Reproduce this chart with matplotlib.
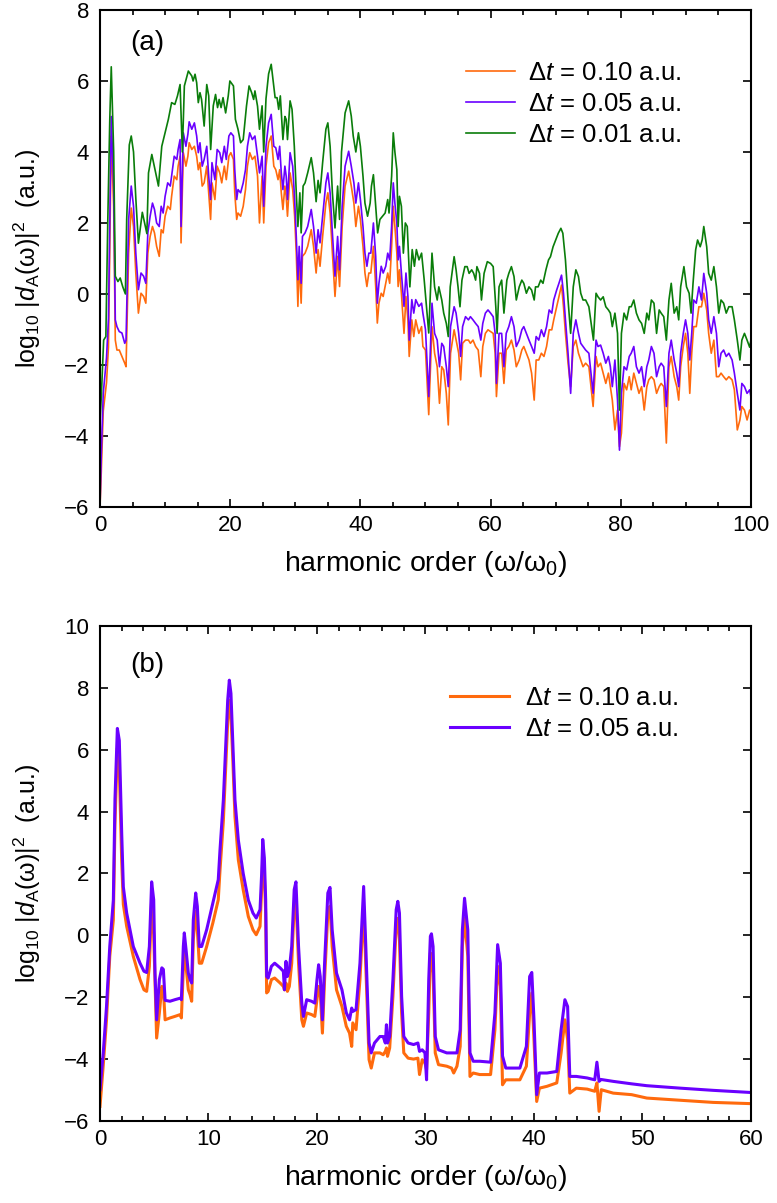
import numpy as np
import matplotlib
matplotlib.use("Agg")
import matplotlib.pyplot as plt
from matplotlib.ticker import MultipleLocator

plt.rcParams['font.family'] = ['Liberation Sans', 'DejaVu Sans']
plt.rcParams['mathtext.fontset'] = 'custom'
plt.rcParams['mathtext.rm'] = 'Liberation Sans'
plt.rcParams['mathtext.it'] = 'Liberation Sans:italic'
plt.rcParams['mathtext.bf'] = 'Liberation Sans:bold'

# ---------------- panel (a) data ----------------
harm_a = [0, 0.2, 0.5, 1.0, 1.3, 1.73, 2.1, 2.35, 2.6, 2.96,
          3.37, 3.8, 4.0, 4.4, 4.8, 5.15, 5.5, 5.9, 6.3, 6.7,
          7.04, 7.35, 7.7, 8.06, 8.37, 8.7, 9.1, 9.4, 9.7, 10.0,
          10.4, 10.8, 11.0, 11.4, 11.8, 12.0, 12.3, 12.45, 12.8, 13.2,
          13.5, 13.7, 14.1, 14.5, 14.85, 15.1, 15.36, 15.7, 16.0, 16.4,
          16.7, 16.99, 17.2, 17.65, 18.0, 18.4, 18.7, 19.1, 19.4, 19.8,
          20.1, 20.5, 20.7, 21.0, 21.2, 21.6, 22.0, 22.35, 22.65, 23.0,
          23.4, 23.8, 24.2, 24.5, 24.9, 25.15, 25.5, 25.9, 26.3, 26.7,
          27.0, 27.35, 27.6, 27.85, 28.1, 28.4, 28.6, 28.8, 29.2, 29.6,
          29.9, 30.15, 30.4, 30.6, 30.9, 31.1, 31.5, 31.9, 32.45, 32.8,
          33.2, 33.5, 33.8, 34.2, 34.7, 35.0, 35.35, 35.7, 36.1, 36.5,
          36.8, 37.2, 37.65, 38.2, 38.6, 39.0, 39.3, 39.7, 40.0, 40.4,
          40.7, 41.0, 41.3, 41.6, 42.0, 42.35, 42.6, 42.85, 43.2, 43.5,
          43.9, 44.2, 44.5, 44.8, 45.05, 45.3, 45.6, 45.8, 46.0, 46.3,
          46.7, 47.0, 47.3, 47.5, 47.9, 48.2, 48.5, 48.98, 49.4, 49.6,
          50.0, 50.5, 51.0, 51.4, 51.8, 52.15, 52.5, 52.8, 53.2, 53.5,
          53.85, 54.4, 54.7, 55.1, 55.4, 55.7, 56.15, 56.6, 56.9, 57.3,
          57.7, 58.1, 58.5, 58.8, 59.2, 59.6, 60.0, 60.4, 60.7, 60.9,
          61.3, 61.7, 62.05, 62.4, 62.8, 63.2, 63.6, 63.95, 64.4, 64.8,
          65.1, 65.5, 65.9, 66.3, 66.7, 67.0, 67.4, 67.8, 68.2, 68.6,
          69.0, 69.4, 69.7, 70.15, 70.5, 70.9, 71.2, 71.5, 71.9, 72.3,
          72.7, 73.1, 73.5, 73.85, 74.2, 74.6, 75.1, 75.75, 76.2, 76.5,
          76.9, 77.3, 77.7, 78.1, 78.4, 78.7, 79.1, 79.5, 79.8, 80.1,
          80.5, 80.9, 81.3, 81.6, 82.0, 82.4, 82.8, 83.2, 83.6, 84.0,
          84.3, 84.7, 85.1, 85.5, 85.9, 86.2, 86.6, 87.0, 87.4, 87.75,
          88.2, 88.6, 88.9, 89.2, 89.6, 89.95, 90.3, 90.6, 90.9, 91.2,
          91.6, 92.0, 92.4, 92.75, 93.2, 93.5, 93.9, 94.3, 94.7, 95.05,
          95.4, 95.8, 96.2, 96.6, 97.1, 97.45, 97.9, 98.3, 98.6, 99.0,
          99.4, 99.8, 100]

dt010_a = [-6, -5.0, -3.3, -2.5, -1.5, 4.45, 2.47, -1.3, -1.58, -1.58,
           -1.76, -1.95, -2.05, 1.15, 2.42, 1.9, 0.59, -0.54, 0.02, -0.07,
           -0.26, 1.15, 1.62, 1.9, 1.72, 1.34, 1.06, 1.81, 1.72, 2.19,
           2.47, 2.38, 2.75, 3.32, 3.22, 3.6, 3.88, 1.44, 3.98, 3.6,
           3.88, 4.26, 4.07, 4.16, 3.88, 3.5, 3.7, 3.04, 3.13, 3.6,
           2.85, 2.1, 3.13, 2.66, 3.6, 3.41, 3.13, 3.6, 3.22, 3.88,
           3.98, 3.79, 2.85, 2.1, 2.28, 2.19, 2.47, 2.94, 3.6, 3.98,
           3.79, 3.88, 3.32, 2.0, 3.32, 2.0, 3.6, 4.26, 4.45, 3.6,
           3.5, 3.22, 3.5, 2.85, 2.38, 3.04, 2.75, 2.19, 3.41, 2.94,
           2.19, 1.15, -0.35, 0.96, -0.26, 1.06, 1.15, 1.34, 1.81, 1.34,
           0.59, 1.25, 0.78, 1.62, 2.56, 2.85, 2.28, 1.15, -0.07, 1.06,
           0.21, 1.9, 3.04, 3.46, 3.04, 2.56, 1.9, 2.47, 2.1, 1.34,
           0.59, 0.21, 0.59, 0.59, 1.34, 0.21, -0.82, -0.26, 0.02, -0.07,
           0.3, 0.59, 0.3, 1.34, 2.47, 1.9, 1.15, 0.21, 0.68, 0.02,
           -1.11, -0.07, -0.73, -1.76, -0.73, -1.2, -0.73, -1.11, -0.92, -1.48,
           -1.58, -3.4, -0.92, -1.67, -2.05, -3.08, -2.05, -2.14, -2.8, -3.69,
           -1.67, -1.01, -1.3, -1.67, -2.42, -1.39, -1.3, -1.3, -1.39, -1.3,
           -1.48, -1.58, -2.33, -1.48, -1.11, -1.01, -1.06, -1.11, -1.67, -2.89,
           -1.67, -1.67, -2.52, -1.58, -1.48, -1.3, -1.58, -2.05, -1.86, -1.58,
           -1.48, -1.67, -1.86, -2.23, -2.99, -1.86, -1.86, -1.67, -1.76, -1.48,
           -1.01, -1.01, -0.73, -0.36, -0.08, 0.25, -0.36, -1.11, -1.95, -2.61,
           -1.48, -1.3, -1.67, -1.86, -2.05, -1.95, -2.05, -3.17, -1.76, -2.05,
           -1.95, -2.23, -2.52, -2.23, -2.61, -2.99, -3.83, -3.27, -4.3, -3.92,
           -2.52, -2.7, -2.33, -2.7, -2.23, -2.52, -2.8, -2.61, -3.27, -2.61,
           -2.42, -2.33, -2.42, -2.8, -2.61, -2.52, -2.61, -4.2, -2.05, -1.76,
           -2.33, -2.61, -2.99, -2.05, -1.48, -1.11, -1.67, -2.8, -1.67, -0.92,
           -0.92, -0.36, -0.36, 0.02, -0.45, -1.11, -1.67, -1.3, -2.33, -2.33,
           -2.23, -2.33, -2.42, -2.33, -2.42, -2.7, -3.83, -3.55, -3.17, -3.27,
           -3.55, -3.27, -3.3]

dt005_a = [-6, -4.5, -2.8, -1.8, -0.7, 5.0, 3.0, -0.73, -0.92, -1.06,
           -1.1, -1.39, -1.3, 2.1, 3.04, 2.47, 1.15, 0.12, 0.59, 0.5,
           0.3, 1.72, 2.19, 2.56, 2.38, 2.0, 1.9, 2.47, 2.28, 2.75,
           3.13, 3.04, 3.32, 3.88, 3.79, 4.07, 4.35, 1.9, 4.54, 4.16,
           4.5, 4.85, 4.64, 4.82, 4.45, 3.98, 4.26, 3.6, 3.79, 4.16,
           3.32, 2.66, 3.7, 3.22, 4.07, 3.98, 3.7, 4.16, 3.79, 4.45,
           4.54, 4.45, 3.5, 2.66, 2.94, 2.85, 3.13, 3.5, 4.16, 4.54,
           4.35, 4.45, 3.88, 3.41, 3.88, 2.47, 4.16, 4.82, 5.06, 4.16,
           4.12, 3.79, 4.16, 3.41, 2.94, 3.6, 3.32, 2.66, 3.98, 3.6,
           2.66, 1.62, 0.4, 1.34, 0.3, 1.62, 1.72, 1.9, 2.38, 1.9,
           1.15, 1.81, 1.44, 2.19, 3.13, 3.41, 2.85, 1.72, 0.5, 1.62,
           0.68, 2.47, 3.6, 4.02, 3.6, 3.13, 2.56, 3.13, 2.66, 1.9,
           1.15, 0.78, 1.15, 1.15, 2.0, 1.06, -0.26, 0.3, 0.78, 0.59,
           0.78, 1.15, 0.96, 1.9, 3.13, 2.56, 2.0, 0.96, 1.34, 0.59,
           -0.35, 0.59, -0.07, -1.3, -0.16, -0.54, -0.16, -0.35, -0.26, -0.54,
           -1.0, -2.89, -0.26, -1.11, -1.3, -2.05, -1.39, -1.48, -2.05, -2.61,
           -0.92, -0.36, -0.54, -1.11, -1.76, -0.92, -0.64, -0.73, -0.64, -0.73,
           -0.83, -0.92, -1.3, -0.83, -0.54, -0.45, -0.54, -0.64, -1.11, -2.52,
           -1.11, -1.11, -2.05, -1.11, -0.92, -0.64, -0.92, -1.48, -1.3, -1.01,
           -0.92, -1.11, -1.3, -1.48, -1.67, -1.2, -1.3, -1.01, -1.2, -0.92,
           -0.45, -0.54, -0.17, 0.11, 0.3, 0.53, 0.02, -0.73, -1.67, -2.8,
           -1.11, -0.73, -1.11, -1.39, -1.48, -1.58, -1.67, -2.8, -1.3, -1.48,
           -1.44, -1.67, -1.95, -1.76, -2.05, -2.61, -1.86, -2.99, -4.4, -2.8,
           -2.05, -2.14, -1.76, -1.67, -1.48, -2.05, -2.23, -2.05, -2.61, -2.05,
           -1.86, -1.48, -1.67, -2.33, -2.05, -1.95, -2.05, -3.17, -1.67, -1.3,
           -1.86, -2.23, -2.61, -1.67, -1.11, -0.73, -1.11, -1.86, -1.11, -0.17,
           -0.26, 0.2, -0.17, 0.58, 0.02, -0.73, -1.11, -0.64, -1.11, -2.05,
           -1.67, -1.58, -1.76, -1.67, -1.86, -2.23, -2.8, -3.27, -2.52, -2.61,
           -2.8, -2.7, -2.9]

harm_a_dt001 = [0, 0.2, 0.56, 0.9, 1.2, 1.5, 1.73, 2.1, 2.35, 2.75,
                3.1, 3.5, 3.9, 4.1, 4.5, 4.8, 5.15, 5.5, 5.9, 6.5,
                7.2, 7.45, 7.96, 8.98, 9.49, 10.0, 10.5, 11.0, 11.5, 11.9,
                12.3, 12.65, 12.96, 13.57, 14.1, 14.3, 14.6, 14.85, 15.1, 15.36,
                15.6, 16.0, 16.4, 16.7, 17.0, 17.4, 17.75, 18.06, 18.3, 18.6,
                18.9, 19.3, 19.7, 19.95, 20.5, 20.8, 21.2, 21.6, 22.0, 22.5,
                22.9, 23.3, 23.6, 23.8, 24.2, 24.5, 24.9, 25.15, 25.5, 25.9,
                26.3, 26.7, 26.9, 27.2, 27.45, 27.7, 28.1, 28.4, 28.6, 28.8,
                29.2, 29.5, 29.85, 30.15, 30.4, 30.7, 30.9, 31.2, 31.5, 31.9,
                32.45, 32.8, 33.2, 33.5, 33.8, 34.2, 34.7, 35.0, 35.35, 35.7,
                36.1, 36.5, 36.8, 37.1, 37.65, 38.2, 38.6, 38.9, 39.3, 39.7,
                40.0, 40.4, 40.7, 41.1, 41.5, 41.7, 42.0, 42.35, 42.65, 43.0,
                43.4, 43.8, 44.2, 44.4, 44.8, 45.05, 45.3, 45.6, 45.8, 46.0,
                46.3, 46.6, 46.9, 47.2, 47.6, 47.96, 48.3, 48.6, 49.0, 49.4,
                49.8, 50.5, 51.0, 51.4, 51.8, 52.05, 52.5, 52.8, 53.2, 53.5,
                53.8, 54.4, 54.7, 55.0, 55.3, 55.6, 56.05, 56.4, 56.7, 57.1,
                57.4, 57.7, 57.9, 58.3, 58.6, 59.0, 59.5, 60.0, 60.4, 60.8,
                61.0, 61.3, 61.7, 62.05, 62.5, 62.8, 63.2, 63.6, 63.95, 64.4,
                64.8, 65.1, 65.5, 65.9, 66.3, 66.7, 66.9, 67.3, 67.7, 68.05,
                68.5, 68.9, 69.2, 69.6, 70.0, 70.4, 70.8, 71.1, 71.5, 71.9,
                72.3, 72.7, 73.1, 73.5, 73.85, 74.2, 74.6, 75.1, 75.8, 76.2,
                76.5, 76.9, 77.3, 77.7, 78.1, 78.4, 78.7, 79.1, 79.5, 79.8,
                80.1, 80.5, 80.9, 81.3, 81.6, 82.0, 82.4, 82.8, 83.2, 83.6,
                84.0, 84.3, 84.7, 85.1, 85.5, 85.9, 86.2, 86.6, 87.0, 87.4,
                87.75, 88.2, 88.6, 88.9, 89.2, 89.7, 90.1, 90.5, 90.8, 91.1,
                91.5, 91.8, 92.2, 92.5, 92.75, 93.2, 93.5, 93.9, 94.3, 94.7,
                95.05, 95.4, 95.8, 96.2, 96.6, 97.1, 97.45, 97.9, 98.3, 98.6,
                99.0, 99.4, 99.8, 100]

dt001_a = [-3.6, -2.9, -1.3, -1.2, 2.1, 4.9, 6.4, 4.0, 0.5, 0.35,
           0.45, 0.2, 0.0, 2.1, 4.2, 4.45, 4.0, 2.7, 1.43, 2.3,
           1.7, 3.41, 3.93, 3.04, 4.16, 4.54, 4.92, 5.39, 5.34, 5.58,
           5.9, 4.0, 5.86, 6.28, 6.14, 6.0, 6.19, 5.95, 5.39, 5.67,
           5.48, 4.73, 5.9, 5.58, 4.07, 5.3, 5.62, 5.25, 5.48, 5.25,
           5.53, 5.1, 5.58, 6.0, 5.86, 4.92, 4.64, 4.26, 4.35, 5.29,
           5.86, 5.67, 5.48, 5.72, 5.29, 4.64, 5.3, 4.0, 5.5, 6.2,
           6.47, 5.86, 5.53, 5.53, 5.2, 5.58, 4.35, 5.0, 4.92, 4.35,
           5.44, 5.2, 4.16, 2.85, 1.9, 2.85, 1.72, 3.04, 3.13, 3.41,
           3.84, 3.41, 2.6, 3.2, 2.85, 3.7, 4.64, 4.82, 4.16, 2.85,
           1.86, 3.04, 2.1, 4.0, 5.1, 5.44, 5.01, 4.45, 4.0, 4.54,
           4.16, 3.32, 2.56, 2.19, 2.56, 3.04, 3.36, 2.47, 1.72, 2.1,
           2.19, 2.28, 2.66, 2.28, 3.32, 4.54, 4.0, 3.5, 1.9, 2.75,
           2.47, 1.15, 2.0, 1.9, 0.2, 1.25, 0.78, 1.25, 0.96, 1.15,
           0.4, -1.1, 1.15, 0.2, -0.17, 0.2, -0.17, -0.54, -0.83, -1.2,
           0.2, 1.05, 0.68, 0.2, -0.36, 0.39, 0.77, 0.77, 0.58, 0.68,
           0.58, 0.39, 0.77, 0.58, -0.17, 0.58, 0.91, 0.86, 0.77, -0.36,
           -1.11, 0.2, 0.39, -0.54, 0.39, 0.58, 0.77, 0.49, -0.17, 0.2,
           0.39, 0.3, 0.02, 0.2, 0.11, -0.17, 0.2, 0.2, 0.39, 0.3,
           0.68, 0.96, 1.05, 1.33, 1.52, 1.71, 1.85, 1.71, 0.96, -0.17,
           -1.11, 0.2, 0.68, 0.49, 0.02, -0.17, -0.17, -0.36, -1.3, 0.02,
           -0.08, -0.17, -0.08, -0.36, -0.45, -0.54, -0.92, -0.54, -1.11, -3.27,
           -1.11, -0.54, -0.73, -0.36, -0.36, -0.17, -0.54, -0.73, -0.83, -1.11,
           -0.54, -0.73, -0.17, -0.26, -1.11, -0.45, -0.54, -0.64, -1.3, -0.17,
           0.3, -0.54, -0.36, -0.73, 0.2, 0.77, 0.2, 0.02, -0.54, 0.3,
           1.24, 1.52, 1.33, 1.52, 1.9, 1.33, 0.58, 0.39, 0.77, 0.2,
           -0.54, -0.17, -0.26, -0.54, -0.36, -0.36, -0.73, -1.3, -1.86, -1.3,
           -1.11, -1.3, -1.5, -1.3]

# ---------------- panel (b) data ----------------
harm_b = [0, 0.3, 0.6, 0.9, 1.23, 1.38, 1.6, 1.78, 2.0, 2.15,
          2.46, 3.07, 3.69, 4.05, 4.3, 4.55, 4.76, 4.95, 5.07, 5.22,
          5.47, 5.7, 5.84, 6.0, 6.45, 6.9, 7.4, 7.5, 7.68, 7.77,
          7.93, 8.14, 8.3, 8.45, 8.6, 8.82, 8.97, 9.15, 9.37, 9.83,
          10.4, 10.9, 11.06, 11.37, 11.61, 11.77, 11.92, 12.07, 12.23, 12.44,
          12.75, 13.2, 13.67, 14.1, 14.4, 14.75, 14.9, 15.0, 15.15, 15.27,
          15.36, 15.5, 15.8, 16.1, 16.6, 16.9, 17.0, 17.14, 17.27, 17.45,
          17.67, 17.9, 18.06, 18.3, 18.6, 18.75, 19.05, 19.5, 19.8, 20.0,
          20.15, 20.3, 20.5, 20.7, 21.0, 21.2, 21.4, 21.8, 22.3, 22.7,
          23.0, 23.2, 23.3, 23.6, 23.96, 24.3, 24.5, 24.8, 25.0, 25.3,
          25.8, 26.1, 26.3, 26.4, 26.5, 26.7, 27.0, 27.3, 27.45, 27.6,
          27.8, 28.0, 28.4, 28.9, 29.3, 29.45, 29.7, 29.95, 30.1, 30.3,
          30.45, 30.55, 30.7, 30.9, 31.2, 31.96, 32.4, 32.6, 32.9, 33.2,
          33.4, 33.6, 33.9, 34.1, 34.4, 35.0, 36.0, 36.4, 36.65, 36.9,
          37.1, 37.4, 38.7, 39.3, 39.6, 39.8, 40.0, 40.25, 40.5, 41.2,
          42.1, 42.5, 42.85, 43.1, 43.3, 43.9, 44.9, 45.6, 45.8, 46.0,
          46.2, 47.3, 49.0, 50.4, 53.5, 56.5, 60.0]

dt010_b = [-5.53, -4.2, -2.73, -0.68, 0.5, 3.6, 6.05, 5.4, 2.4, 1.0,
           0.29, -0.68, -1.43, -1.76, -1.81, -1.0, 1.15, 0.0, -1.5, -3.32,
           -2.51, -1.65, -1.76, -2.73, -2.67, -2.62, -2.56, -2.67, -1.1, -0.46,
           -1.0, -1.76, -1.92, -2.13, -0.14, 0.78, 0.18, -0.9, -0.9, -0.36,
           0.4, 1.15, 2.1, 3.7, 5.6, 6.9, 7.6, 7.1, 5.78, 3.84,
           2.44, 1.47, 0.61, 0.18, 0.02, 0.29, 1.5, 2.5, 1.9, 0.72,
           -1.86, -1.81, -1.43, -1.38, -1.54, -1.65, -1.76, -1.54, -1.81, -1.65,
           -0.9, 0.94, 1.15, -0.9, -2.73, -2.94, -2.51, -2.56, -2.62, -2.08,
           -1.65, -1.86, -3.16, -1.43, 0.72, 0.94, -0.36, -1.76, -2.3, -2.94,
           -3.16, -3.59, -2.83, -3.05, -1.43, 0.94, -1.0, -4.02, -4.29, -3.8,
           -3.8, -3.86, -3.75, -3.64, -3.91, -3.64, -1.97, 0.29, 0.55, -0.14,
           -2.51, -3.8, -3.97, -4.0, -3.97, -4.5, -4.02, -4.13, -4.34, -2.51,
           -0.57, -0.6, -1.22, -3.8, -4.18, -4.23, -4.29, -4.45, -4.23, -3.59,
           -0.36, 0.56, -0.68, -4.56, -4.45, -4.5, -4.5, -3.05, -1.0, -1.65,
           -4.83, -4.67, -4.67, -4.23, -2.51, -1.86, -3.37, -5.37, -4.94, -4.88,
           -4.77, -3.8, -2.73, -3.37, -5.1, -4.94, -4.97, -5.04, -4.77, -5.69,
           -4.99, -5.1, -5.15, -5.26, -5.33, -5.4, -5.44]

dt005_b = [-4.99, -3.8, -2.3, -0.36, 1.14, 4.4, 6.69, 6.3, 3.3, 1.57,
           0.72, -0.36, -0.9, -1.16, -1.2, -0.36, 1.73, 1.15, -1.22, -2.73,
           -1.43, -1.05, -1.1, -2.1, -2.13, -2.08, -2.03, -2.08, -0.36, 0.08,
           -0.46, -1.22, -1.43, -1.54, 0.5, 1.37, 0.94, -0.36, -0.36, 0.18,
           1.05, 1.8, 2.76, 4.38, 6.31, 7.6, 8.25, 7.82, 6.3, 4.38,
           3.08, 2.0, 1.14, 0.72, 0.56, 0.83, 2.0, 3.1, 2.5, 1.15,
           -1.33, -1.38, -1.0, -0.9, -1.05, -1.16, -1.76, -0.84, -1.33, -1.1,
           -0.36, 1.48, 1.73, -0.36, -2.19, -2.62, -2.08, -2.13, -2.19, -1.43,
           -0.95, -1.33, -2.73, -0.9, 1.37, 1.55, 0.18, -1.22, -1.76, -2.5,
           -2.73, -2.35, -2.46, -2.4, -0.9, 1.58, -0.36, -3.48, -3.8, -3.48,
           -3.27, -3.27, -3.48, -2.89, -3.48, -3.27, -1.43, 0.83, 1.1, 0.72,
           -1.97, -3.27, -3.48, -3.53, -3.48, -3.75, -3.7, -3.8, -4.67, -1.43,
           -0.03, 0.05, -0.36, -3.27, -3.7, -3.8, -3.8, -3.8, -3.8, -3.05,
           0.18, 1.2, 0.18, -3.8, -4.07, -4.07, -4.1, -2.51, -0.3, -0.9,
           -3.9, -4.29, -4.29, -3.59, -1.33, -1.2, -2.73, -5.15, -4.45, -4.45,
           -4.4, -3.05, -2.08, -2.3, -4.56, -4.56, -4.61, -4.67, -4.1, -4.72,
           -4.66, -4.72, -4.8, -4.86, -4.94, -5.01, -5.08]

labels = [r'$\Delta t$ = 0.10 a.u.', r'$\Delta t$ = 0.05 a.u.', r'$\Delta t$ = 0.01 a.u.']
c_orange = '#ff6a0d'
c_purple = '#6a00ff'
c_green = '#0a7d0a'

ylabel = r'log$_{10}$ |$d_{\rm A}$(ω)|$^2$  (a.u.)'
xlabel = r'harmonic order (ω/ω$_0$)'

fig = plt.figure(figsize=(7.77, 12.03), dpi=100)
ax1 = fig.add_axes([0.1287, 0.5786, 0.8378, 0.4131])
ax2 = fig.add_axes([0.1287, 0.0682, 0.8378, 0.4114])

ax1.plot(harm_a, dt010_a, color=c_orange, lw=1.2, label=labels[0])
ax1.plot(harm_a, dt005_a, color=c_purple, lw=1.2, label=labels[1])
ax1.plot(harm_a_dt001, dt001_a, color=c_green, lw=1.2, label=labels[2])
ax1.set_xlim(0, 100)
ax1.set_ylim(-6, 8)
ax1.xaxis.set_major_locator(MultipleLocator(20))
ax1.xaxis.set_minor_locator(MultipleLocator(5))
ax1.yaxis.set_major_locator(MultipleLocator(2))

ax2.plot(harm_b, dt010_b, color=c_orange, lw=2.2, label=labels[0])
ax2.plot(harm_b, dt005_b, color=c_purple, lw=2.2, label=labels[1])
ax2.set_xlim(0, 60)
ax2.set_ylim(-6, 10)
ax2.xaxis.set_major_locator(MultipleLocator(10))
ax2.xaxis.set_minor_locator(MultipleLocator(2))
ax2.yaxis.set_major_locator(MultipleLocator(2))

# per-panel: tag y, legend anchor x/y, legend handle length, handle-text gap
panel_opts = [(ax1, '(a)', 0.934, 0.562, 0.898, 1.9, 0.5),
              (ax2, '(b)', 0.921, 0.538, 0.879, 2.3, 0.62)]
for ax, tag, tag_y, leg_x, leg_y, hlen, hpad in panel_opts:
    ax.tick_params(which='both', direction='in', top=True, right=True, labelsize=16, width=1.2)
    ax.tick_params(which='major', length=6)
    ax.tick_params(which='minor', length=3.5)
    ax.tick_params(axis='x', which='major', pad=6)
    ax.tick_params(axis='y', which='major', pad=8)
    for s in ax.spines.values():
        s.set_linewidth(1.5)
    ax.set_xlabel(xlabel, fontsize=20.5, labelpad=9)
    ax.set_ylabel(ylabel, fontsize=18, labelpad=15)
    ax.text(0.046, tag_y, tag, transform=ax.transAxes,
            fontsize=20, va='center', ha='left')
    ax.legend(loc='upper left', bbox_to_anchor=(leg_x, leg_y), frameon=False,
              fontsize=18.5, handlelength=hlen, handletextpad=hpad, labelspacing=0.28,
              borderpad=0, borderaxespad=0)

fig.savefig('out.png', dpi=100)
